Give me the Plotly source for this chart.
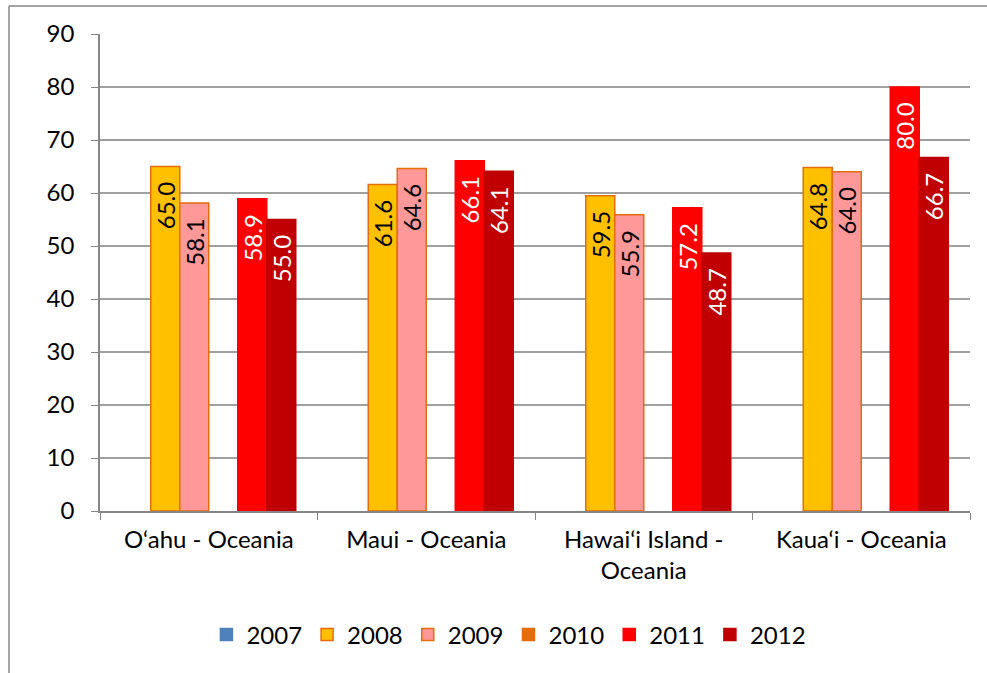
import plotly.graph_objects as go

categories = ["O‘ahu - Oceania", "Maui - Oceania", "Hawai‘i Island -<br>Oceania", "Kaua‘i - Oceania"]
years = ["2007", "2008", "2009", "2010", "2011", "2012"]
v2007 = [None, None, None, None]
v2008 = [65.0, 61.6, 59.5, 64.8]
v2009 = [58.1, 64.6, 55.9, 64.0]
v2010 = [None, None, None, None]
v2011 = [58.9, 66.1, 57.2, 80.0]
v2012 = [55.0, 64.1, 48.7, 66.7]
series = [v2007, v2008, v2009, v2010, v2011, v2012]

fills = ["#4F81BD", "#FFC000", "#FF9999", "#E46C0A", "#FF0000", "#C00000"]
borders = ["#4F81BD", "#E46C0A", "#E46C0A", "#E46C0A", "#FF0000", "#C00000"]
textcolors = ["black", "black", "black", "black", "white", "white"]

FONT = "Lato"
FS = 24

fig = go.Figure()
for name, vals, fc, bc, tc in zip(years, series, fills, borders, textcolors):
    fig.add_trace(go.Bar(
        name=name, x=categories, y=vals,
        marker=dict(color=fc, line=dict(color=bc, width=1.5)),
        texttemplate="%{y:.1f}\u00a0\u00a0", textposition="inside", insidetextanchor="end",
        textangle=-90, textfont=dict(color=tc, size=FS, family=FONT),
        constraintext="none", cliponaxis=False, hoverinfo="skip",
    ))

fig.update_layout(
    width=987, height=673,
    margin=dict(l=100, r=17, t=34, b=162),
    barmode="group", bargap=0.2, bargroupgap=0,
    plot_bgcolor="white", paper_bgcolor="white",
    font=dict(family=FONT, size=FS, color="black"),
    uniformtext=dict(minsize=FS, mode="show"),
    showlegend=True,
    legend=dict(orientation="h", x=0.47, xanchor="center", y=-0.26, yanchor="middle",
                font=dict(size=FS, family=FONT), itemwidth=30, traceorder="normal"),
    xaxis=dict(showgrid=False, showline=True, linecolor="#868686", linewidth=1.5,
               ticks="outside", tickson="boundaries", ticklen=7, tickcolor="#868686",
               tickfont=dict(size=FS, family=FONT), ticklabelstandoff=6),
    yaxis=dict(range=[0, 90], dtick=10, showgrid=True, gridcolor="#A0A0A0", gridwidth=1.5,
               showline=True, linecolor="#868686", linewidth=1.5, ticks="outside",
               ticklen=7, tickcolor="#868686", zeroline=False,
               tickfont=dict(size=FS, family=FONT), ticklabelstandoff=12),
    shapes=[
        dict(type="line", xref="paper", yref="paper", x0=-0.1046, x1=-0.1046, y0=1.0587, y1=-0.5,
             line=dict(color="#868686", width=1.5)),
        dict(type="line", xref="paper", yref="paper", x0=-0.1046, x1=1.05, y0=1.0587, y1=1.0587,
             line=dict(color="#868686", width=1.5)),
    ],
)

fig.write_html("out.html", config={"displayModeBar": False},
               post_script="document.body.style.margin='0';")
